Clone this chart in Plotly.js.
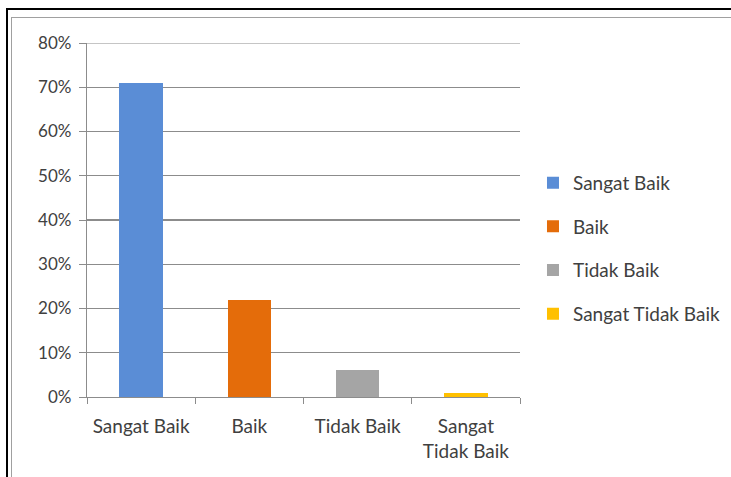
<!DOCTYPE html>
<html>
<head>
<meta charset="utf-8">
<script src="https://cdn.plot.ly/plotly-3.0.1.min.js"></script>
<style>
  html, body { margin: 0; padding: 0; background: #fff; overflow: hidden; }
  #chart { position: absolute; left: 0; top: 0; width: 731px; height: 477px; }
  .frame-outer { position: absolute; left: 6px; top: 8px; right: -10px; bottom: -10px;
                 border-left: 2px solid #000; border-top: 2px solid #000; pointer-events: none; }
  .frame-inner { position: absolute; left: 11px; top: 17px; right: -10px; bottom: -10px;
                 border-left: 1.5px solid #a0a0a0; border-top: 1.5px solid #a0a0a0; pointer-events: none; }
</style>
</head>
<body>
<div id="chart"></div>
<div class="frame-outer"></div>
<div class="frame-inner"></div>
<script>
// Penilaian responden per kategori (persentase)
const categories = ["Sangat Baik", "Baik", "Tidak Baik", "Sangat Tidak Baik"];
const tickLabels = ["Sangat Baik", "Baik", "Tidak Baik", "Sangat<br>Tidak Baik"];
const values = [0.71, 0.22, 0.06, 0.01];
const colors = ["#5a8dd6", "#e46c0a", "#a5a5a5", "#ffc000"];

const fontFamily = "Lato, 'Open Sans', sans-serif";
const textColor = "#404040";
const axisColor = "#8c8c8c";

const traces = categories.map((name, i) => ({
  type: "bar",
  name: name,
  x: [tickLabels[i]],
  y: [values[i]],
  marker: { color: colors[i] },
  legendgroup: "g" + i,
  hoverinfo: "name+y"
}));

const layout = {
  width: 731,
  height: 477,
  margin: { l: 87, r: 211, t: 43, b: 80, autoexpand: false },
  paper_bgcolor: "rgba(0,0,0,0)",
  plot_bgcolor: "rgba(0,0,0,0)",
  barmode: "stack",
  bargap: 0.6,
  font: { family: fontFamily, size: 17, color: textColor },
  xaxis: {
    type: "category",
    categoryorder: "array",
    categoryarray: tickLabels,
    tickson: "boundaries",
    ticks: "outside",
    ticklen: 6,
    tickcolor: axisColor,
    showline: true,
    linecolor: axisColor,
    linewidth: 1.2,
    showgrid: false,
    ticklabelstandoff: 12,
    tickfont: { family: fontFamily, size: 19, color: textColor }
  },
  yaxis: {
    range: [0, 0.8],
    dtick: 0.1,
    tickformat: ".0%",
    ticks: "outside",
    ticklen: 7,
    tickcolor: axisColor,
    showline: true,
    linecolor: axisColor,
    linewidth: 1.2,
    showgrid: true,
    gridcolor: axisColor,
    gridwidth: 1.2,
    zeroline: false,
    ticklabelstandoff: 4,
    tickfont: { family: fontFamily, size: 17, color: textColor }
  },
  // gridline at the top of the value range
  shapes: [{
    type: "line", xref: "paper", yref: "y",
    x0: 0, x1: 1, y0: 0.8, y1: 0.8,
    line: { color: axisColor, width: 1.2 }
  }],
  showlegend: true,
  legend: {
    x: 1.03,
    y: 0.42,
    xanchor: "left",
    yanchor: "middle",
    traceorder: "grouped",
    tracegroupgap: 16,
    itemwidth: 30,
    font: { family: fontFamily, size: 19, color: textColor },
    bgcolor: "rgba(0,0,0,0)"
  }
};

Plotly.newPlot("chart", traces, layout, { displayModeBar: false, staticPlot: true });
</script>
</body>
</html>
